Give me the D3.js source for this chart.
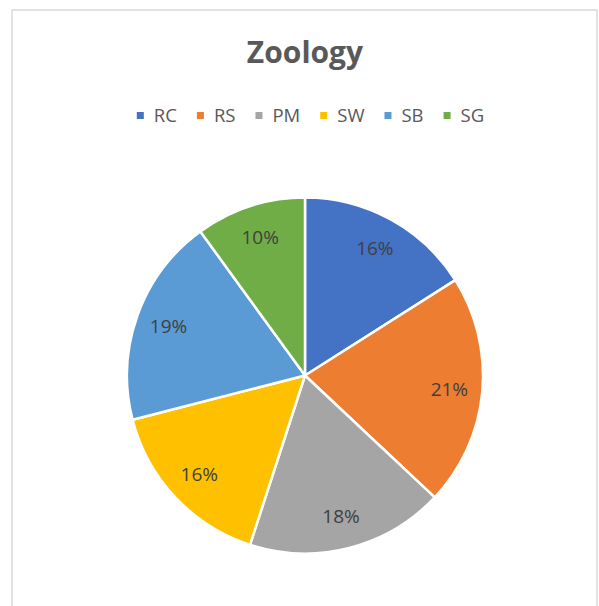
<!DOCTYPE html>
<html>
<head>
<meta charset="utf-8">
<script src="https://cdn.jsdelivr.net/npm/d3@7"></script>
<style>
  html, body { margin: 0; padding: 0; background: #ffffff; }
  svg { display: block; }
</style>
</head>
<body>
<svg id="chart" width="599" height="606"></svg>
<script>
const title = "Zoology";
const categories = ["RC", "RS", "PM", "SW", "SB", "SG"];
const values = [16, 21, 18, 16, 19, 10];
const colors = ["#4472C4", "#ED7D31", "#A5A5A5", "#FFC000", "#5B9BD5", "#70AD47"];

const svg = d3.select("#chart");
const font = "'Open Sans', 'Noto Sans', sans-serif";

// chart frame
svg.append("rect")
  .attr("x", 12).attr("y", 10)
  .attr("width", 585).attr("height", 620)
  .attr("fill", "#ffffff")
  .attr("stroke", "#d9d9d9").attr("stroke-width", 1.5);

// title
svg.append("text")
  .attr("x", 305).attr("y", 63)
  .attr("text-anchor", "middle")
  .attr("font-family", font).attr("font-weight", "bold")
  .attr("font-size", 30).attr("fill", "#595959")
  .text(title);

// legend
const color = d3.scaleOrdinal().domain(categories).range(colors);
const legend = svg.append("g");
const items = legend.selectAll("g").data(categories).join("g");
items.append("rect")
  .attr("width", 7).attr("height", 7)
  .attr("y", -10)
  .attr("fill", d => color(d));
items.append("text")
  .attr("x", 17).attr("y", 0)
  .attr("font-family", font).attr("font-size", 18.5)
  .attr("fill", "#595959")
  .text(d => d);
let xpos = 0;
const sq = 17, gapAfter = 20;
items.each(function() {
  const tw = d3.select(this).select("text").node().getComputedTextLength();
  d3.select(this).attr("transform", `translate(${xpos},0)`);
  xpos += sq + tw + gapAfter;
});
const totalW = xpos - gapAfter;
legend.attr("transform", `translate(${310.5 - totalW / 2}, 122)`);

// pie
const cx = 305, cy = 375.5, r = 178;
const pie = d3.pie().sort(null).value(d => d)(values);
const arc = d3.arc().innerRadius(0).outerRadius(r);
const labelArc = d3.arc().innerRadius(145).outerRadius(145);
const total = d3.sum(values);

const g = svg.append("g").attr("transform", `translate(${cx},${cy})`);
g.selectAll("path").data(pie).join("path")
  .attr("d", arc)
  .attr("fill", (d, i) => color(categories[i]))
  .attr("stroke", "#ffffff").attr("stroke-width", 2.5)
  .attr("stroke-linejoin", "round");

g.selectAll("text.lbl").data(pie).join("text")
  .attr("class", "lbl")
  .attr("transform", d => `translate(${labelArc.centroid(d)})`)
  .attr("text-anchor", "middle")
  .attr("dy", "0.35em")
  .attr("font-family", font).attr("font-size", 19)
  .attr("fill", "#404040")
  .text(d => Math.round(d.data / total * 100) + "%");
</script>
</body>
</html>
